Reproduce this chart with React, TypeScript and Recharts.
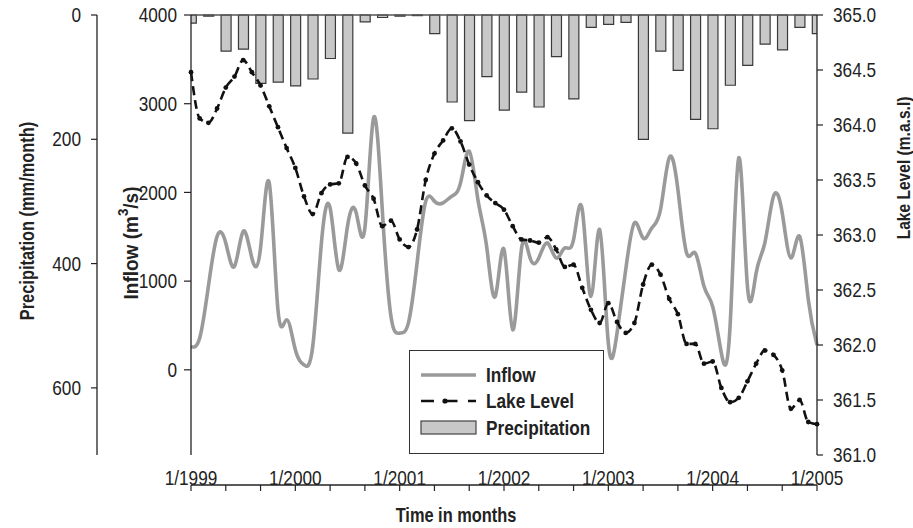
import React from 'react';
import { ComposedChart, Line, Bar, XAxis, YAxis, ReferenceLine, Legend } from 'recharts';

// months since 1/1999 (monthly series)
const inflow = [
  260, 358, 941, 1505, 1430, 1166, 1561, 1261, 1374, 2108, 677, 565,
  226, 56, 263, 1430, 1825, 1129, 1618, 1769, 1600, 2841, 1806, 602,
  414, 527, 1204, 1900, 1900, 1882, 1957, 2108, 2465, 1919, 1392, 828,
  1355, 452, 1355, 1261, 1261, 1430, 1261, 1374, 1468, 1806, 828, 1581,
  301, 414, 1129, 1656, 1486, 1600, 1806, 2390, 2032, 1317, 1317, 941,
  715, 188, 489, 2390, 941, 1092, 1430, 1957, 1769, 1261, 1505, 790,
  280,
];

const lakeLevel = [
  364.48, 364.06, 364.02, 364.15, 364.34, 364.44, 364.59, 364.48, 364.36, 364.17, 363.98, 363.79,
  363.61, 363.35, 363.19, 363.38, 363.46, 363.47, 363.71, 363.65, 363.45, 363.33, 363.08, 363.13,
  362.96, 362.89, 363.05, 363.5, 363.74, 363.86, 363.97, 363.85, 363.64, 363.48, 363.36, 363.29,
  363.23, 363.08, 362.96, 362.95, 362.93, 362.98, 362.87, 362.71, 362.73, 362.52, 362.32, 362.2,
  362.38, 362.21, 362.11, 362.2, 362.55, 362.73, 362.64, 362.42, 362.28, 362.01, 362.01, 361.83,
  361.85, 361.61, 361.48, 361.52, 361.67, 361.83, 361.95, 361.91, 361.77, 361.42, 361.5, 361.3,
  361.28,
];

// bimonthly precipitation (every 2 months from 1/1999), mm/month
const precipitation = [
  13, 2, 58, 55, 110, 108, 114, 103, 70, 190, 11, 4,
  2, 1, 30, 140, 170, 99, 153, 124, 148, 67, 135, 20,
  15, 12, 200, 58, 89, 168, 183, 113, 81, 47, 56, 20,
  30,
];

const xTicks = [0, 4, 8, 12, 16, 20, 24, 28, 32, 36, 40, 44, 48, 52, 56, 60, 64, 68, 72];
const xTickLabels: Record<number, string> = {
  0: '1/1999', 12: '1/2000', 24: '1/2001', 36: '1/2002', 48: '1/2003', 60: '1/2004', 72: '1/2005',
};
const inflowTicks = [0, 1000, 2000, 3000, 4000];
const precipTicks = [0, 200, 400, 600];
const lakeTicks = [361, 361.5, 362, 362.5, 363, 363.5, 364, 364.5, 365];

const seriesNames = ['Inflow', 'Lake Level', 'Precipitation'];

const lineData = inflow.map((v, i) => ({ m: i, inflow: v, lake: lakeLevel[i] }));
const barData = precipitation.map((v, i) => ({ m: i * 2, precip: v }));

const FONT = '"Liberation Sans", Arial, sans-serif';
const NARROW = 0.82;
const TICK_SIZE = 21;
const TITLE_SIZE = 20;
const INK = '#222';

const XTick = (props: any) => {
  const { x, y, payload } = props;
  const label = xTickLabels[payload.value];
  if (!label) return null;
  return (
    <text
      transform={`translate(${x},${y - 13}) scale(${NARROW},1)`}
      textAnchor="middle"
      dominantBaseline="central"
      fontFamily={FONT}
      fontSize={TICK_SIZE}
      fill={INK}
    >
      {label}
    </text>
  );
};

const makeYTick = (anchor: 'start' | 'end', fmt: (v: number) => string) => (props: any) => {
  const { x, y, payload } = props;
  return (
    <text
      transform={`translate(${x},${y}) scale(${NARROW},1)`}
      textAnchor={anchor}
      dominantBaseline="central"
      fontFamily={FONT}
      fontSize={TICK_SIZE}
      fill={INK}
    >
      {fmt(payload.value)}
    </text>
  );
};

const InflowTick = makeYTick('end', (v) => String(v));
const PrecipTick = makeYTick('end', (v) => String(v));
const LakeTick = makeYTick('start', (v) => v.toFixed(1));

const Title = ({
  x, y, rotate, size = TITLE_SIZE, squeeze = NARROW, children,
}: { x: number; y: number; rotate?: boolean; size?: number; squeeze?: number; children: React.ReactNode }) => (
  <text
    transform={`translate(${x},${y})${rotate ? ' rotate(-90)' : ''} scale(${squeeze},1)`}
    textAnchor="middle"
    dominantBaseline="central"
    fontFamily={FONT}
    fontSize={size}
    fontWeight={700}
    fill={INK}
  >
    {children}
  </text>
);

const LegendBox = () => (
  <div
    style={{
      position: 'relative',
      width: 195,
      height: 104,
      boxSizing: 'border-box',
      border: '1.5px solid #333',
      background: '#fff',
      fontFamily: FONT,
    }}
  >
    <svg width={70} height={104} style={{ position: 'absolute', left: 0, top: 0 }}>
      <line x1={11} x2={66} y1={24} y2={24} stroke="#9a9a9a" strokeWidth={3.5} />
      <line x1={11} x2={66} y1={50} y2={50} stroke="#111" strokeWidth={2.5} strokeDasharray="13 10.5" />
      <circle cx={35} cy={50} r={2.6} fill="#111" />
      <rect x={11} y={70} width={55} height={13} fill="#c8c8c8" stroke="#444" strokeWidth={1.2} />
    </svg>
    {seriesNames.map((name, i) => (
      <div
        key={name}
        style={{
          position: 'absolute',
          left: 76,
          top: [24, 50, 77][i] - 12,
          height: 24,
          lineHeight: '24px',
          fontSize: 21,
          fontWeight: 700,
          color: INK,
          whiteSpace: 'nowrap',
          transform: `scaleX(${NARROW})`,
          transformOrigin: 'left center',
        }}
      >
        {name}
      </div>
    ))}
  </div>
);

export default function App() {
  return (
    <div style={{ position: 'absolute', left: 0, top: 0, width: 913, height: 528, background: '#fff' }}>
      <ComposedChart width={913} height={528} data={barData} margin={{ top: 15, right: 0, bottom: 0, left: 0 }}>
        <XAxis
          xAxisId="time"
          dataKey="m"
          type="number"
          domain={[0, 72]}
          ticks={xTicks}
          interval={0}
          height={73}
          tickSize={6}
          tickMargin={0}
          tick={<XTick />}
          axisLine={{ stroke: INK, strokeWidth: 1.3 }}
          tickLine={{ stroke: INK, strokeWidth: 1.2 }}
          label={{ content: () => <Title x={456} y={515}>Time in months</Title> }}
        />
        <XAxis xAxisId="bars" dataKey="m" type="number" domain={[0, 72]} hide allowDataOverflow />
        <YAxis
          yAxisId="inflow"
          orientation="left"
          type="number"
          domain={[-960, 4000]}
          ticks={inflowTicks}
          interval={0}
          width={94}
          tickSize={7}
          tickMargin={7}
          tick={<InflowTick />}
          axisLine={{ stroke: INK, strokeWidth: 1.3 }}
          tickLine={{ stroke: INK, strokeWidth: 1.2 }}
          label={{
            content: () => (
              <Title x={131} y={243} rotate squeeze={0.95}>
                <tspan>Inflow (m</tspan>
                <tspan dy={-8} fontSize={14}>3</tspan>
                <tspan dy={8}>/s)</tspan>
              </Title>
            ),
          }}
        />
        <YAxis
          yAxisId="precip"
          orientation="left"
          type="number"
          dataKey="precip"
          domain={[0, 708]}
          reversed
          ticks={precipTicks}
          interval={0}
          width={97}
          tickSize={6}
          tickMargin={10}
          tick={<PrecipTick />}
          axisLine={{ stroke: INK, strokeWidth: 1.3 }}
          tickLine={{ stroke: INK, strokeWidth: 1.2 }}
          label={{ content: () => <Title x={27} y={221} rotate>Precipitation (mm/month)</Title> }}
        />
        <YAxis
          yAxisId="lake"
          orientation="right"
          type="number"
          domain={[361, 365]}
          ticks={lakeTicks}
          interval={0}
          width={96}
          tickSize={6}
          tickMargin={10}
          tick={<LakeTick />}
          axisLine={{ stroke: INK, strokeWidth: 1.3 }}
          tickLine={{ stroke: INK, strokeWidth: 1.2 }}
          label={{ content: () => <Title x={903} y={168} rotate size={19}>Lake Level (m.a.s.l)</Title> }}
        />
        <Bar
          xAxisId="bars"
          yAxisId="precip"
          dataKey="precip"
          name={seriesNames[2]}
          barSize={10}
          fill="#c8c8c8"
          stroke="#3a3a3a"
          strokeWidth={1.2}
          isAnimationActive={false}
        />
        <ReferenceLine xAxisId="bars" yAxisId="precip" y={0} stroke="#555" strokeWidth={1.6} />
        <Line
          xAxisId="time"
          yAxisId="inflow"
          data={lineData}
          dataKey="inflow"
          name={seriesNames[0]}
          type="natural"
          stroke="#9a9a9a"
          strokeWidth={3.6}
          dot={false}
          isAnimationActive={false}
        />
        <Line
          xAxisId="time"
          yAxisId="lake"
          data={lineData}
          dataKey="lake"
          name={seriesNames[1]}
          type="monotone"
          stroke="#111"
          strokeWidth={2.6}
          strokeDasharray="9 5"
          dot={{ r: 2.4, fill: '#111', stroke: '#111', strokeWidth: 0 }}
          isAnimationActive={false}
        />
        <Legend
          layout="vertical"
          align="center"
          verticalAlign="middle"
          content={() => <LegendBox />}
          wrapperStyle={{ left: 409, top: 350, width: 195, height: 104, bottom: 'auto', right: 'auto' }}
        />
      </ComposedChart>
    </div>
  );
}
